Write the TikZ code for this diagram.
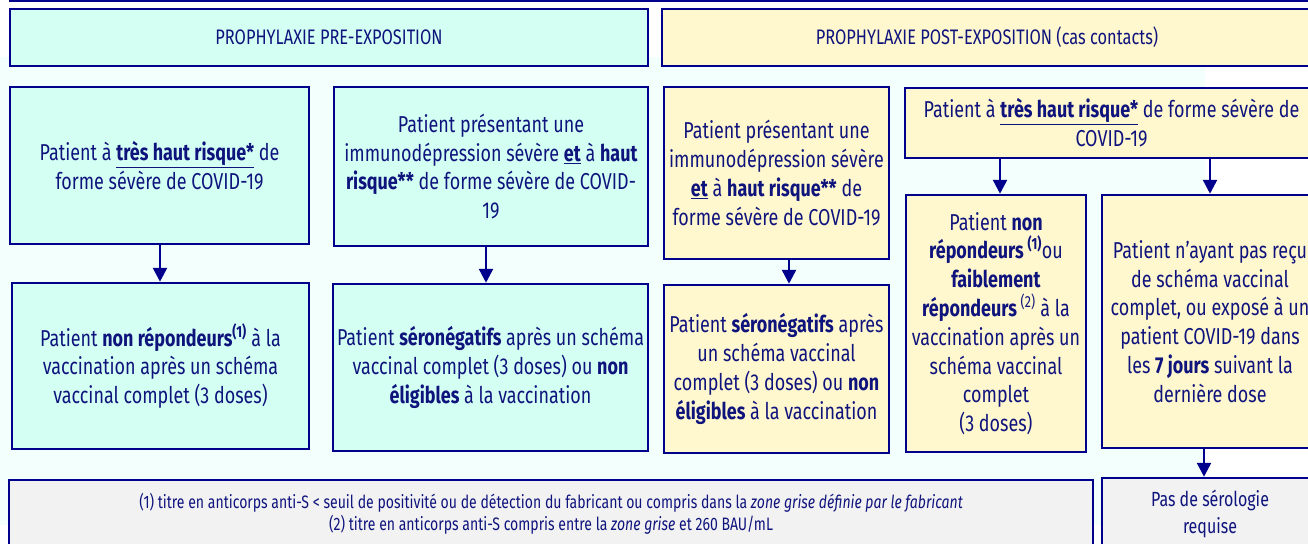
\documentclass[tikz,border=0pt]{standalone}
\usepackage{fontspec}
\setmainfont{Fira Sans}[FakeStretch=0.78]
\usetikzlibrary{arrows.meta}
\definecolor{bordc}{RGB}{0,0,140}
\definecolor{txtc}{RGB}{15,20,125}
\definecolor{cyanf}{RGB}{212,255,243}
\definecolor{yelf}{RGB}{255,247,206}
\definecolor{grayf}{RGB}{242,242,242}
\definecolor{bgc}{RGB}{242,255,253}
\begin{document}
\begin{tikzpicture}[x=1pt,y=-1pt,
  box/.style={draw=bordc,line width=2.5pt,inner sep=0pt,align=center,text=txtc,
    font=\fontsize{23}{28.8}\selectfont},
  cbox/.style={box,fill=cyanf},
  ybox/.style={box,fill=yelf},
  gbox/.style={box,fill=grayf},
  hbox/.style={font=\fontsize{21}{26}\selectfont},
  arr/.style={draw=bordc,line width=2.5pt,-{Triangle[width=14pt,length=14pt]}}]
\useasboundingbox (0,0) rectangle (1308,543);
\clip (0,0) rectangle (1308,543);
\fill[white] (0,0) rectangle (1308,543);
\fill[bgc] (0,57) rectangle (1205,525);
\draw[bordc,line width=2.5pt] (9,0.6) -- (1308,0.6);
% headers
\node[cbox,hbox,minimum width=638pt,minimum height=57pt] (hL) at (329,37.5) {PROPHYLAXIE PRE-EXPOSITION};
\node[ybox,hbox,minimum width=650pt,minimum height=57pt] (hR) at (987,37.5) {PROPHYLAXIE POST-EXPOSITION (cas contacts)};
% pre-exposition
\node[cbox,minimum width=299pt,minimum height=157pt] (b1) at (159.5,165.5)
  {Patient à \underline{\textbf{très haut risque*}} de\\forme sévère de COVID-19};
\node[cbox,minimum width=314pt,minimum height=159pt] (b2) at (491,166.5)
  {Patient présentant une\\immunodépression sévère \underline{\textbf{et}} à \textbf{haut}\\\textbf{risque**} de forme sévère de COVID-\\19};
\node[cbox,minimum width=297pt,minimum height=166pt] (b3) at (160.5,366)
  {Patient \textbf{non répondeurs}\textsuperscript{\textbf{(1)}} à la\\vaccination après un schéma\\vaccinal complet (3 doses)};
\node[cbox,minimum width=315pt,minimum height=167pt] (b4) at (490.5,367.5)
  {Patient \textbf{séronégatifs} après un schéma\\vaccinal complet (3 doses) ou \textbf{non}\\\textbf{éligibles} à la vaccination};
% post-exposition
\node[ybox,minimum width=225pt,minimum height=172pt] (b5) at (776.5,173)
  {Patient présentant une\\immunodépression sévère\\\underline{\textbf{et}} à \textbf{haut risque**} de\\forme sévère de COVID-19};
\node[ybox,minimum width=413pt,minimum height=70pt] (b6) at (1111.5,123)
  {Patient à \underline{\textbf{très haut risque*}} de forme sévère de\\COVID-19};
\node[ybox,minimum width=180pt,minimum height=257pt] (b7) at (996,323.5)
  {Patient \textbf{non}\\\textbf{répondeurs}\,\textsuperscript{\textbf{(1)}}ou\\\textbf{faiblement}\\\textbf{répondeurs}\,\textsuperscript{(2)} à la\\vaccination après un\\schéma vaccinal\\complet\\(3 doses)};
\node[ybox,minimum width=216pt,minimum height=253pt] (b8) at (1210,321.5)
  {Patient n’ayant pas reçu\\de schéma vaccinal\\complet, ou exposé à un\\patient COVID-19 dans\\les \textbf{7 jours} suivant la\\dernière dose};
\node[ybox,minimum width=225pt,minimum height=168pt] (b9) at (776.5,369)
  {Patient \textbf{séronégatifs} après\\un schéma vaccinal\\complet (3 doses) ou \textbf{non}\\\textbf{éligibles} à la vaccination};
% bottom
\node[gbox,minimum width=1084pt,minimum height=68pt,font=\fontsize{18}{22.5}\selectfont] (foot) at (551,514)
  {(1) titre en anticorps anti-S < seuil de positivité ou de détection du fabricant ou compris dans la \textit{zone grise définie par le fabricant}\\(2) titre en anticorps anti-S compris entre la \textit{zone grise} et 260 BAU/mL};
\node[gbox,minimum width=216pt,minimum height=71pt,font=\fontsize{20.5}{27}\selectfont] (b10) at (1210,513.5)
  {Pas de sérologie\\requise};
% arrows
\coordinate (xa) at (160,0);
\coordinate (xb) at (486,0);
\coordinate (xc) at (789,0);
\coordinate (xd) at (1000,0);
\coordinate (xe) at (1210,0);
\coordinate (xf) at (1204,0);
\draw[arr] (b1.south -| xa) -- (b3.north -| xa);
\draw[arr] (b2.south -| xb) -- (b4.north -| xb);
\draw[arr] (b5.south -| xc) -- (b9.north -| xc);
\draw[arr] (b6.south -| xd) -- (b7.north -| xd);
\draw[arr] (b6.south -| xe) -- (b8.north -| xe);
\draw[arr] (b8.south -| xf) -- (b10.north -| xf);
\end{tikzpicture}
\end{document}
